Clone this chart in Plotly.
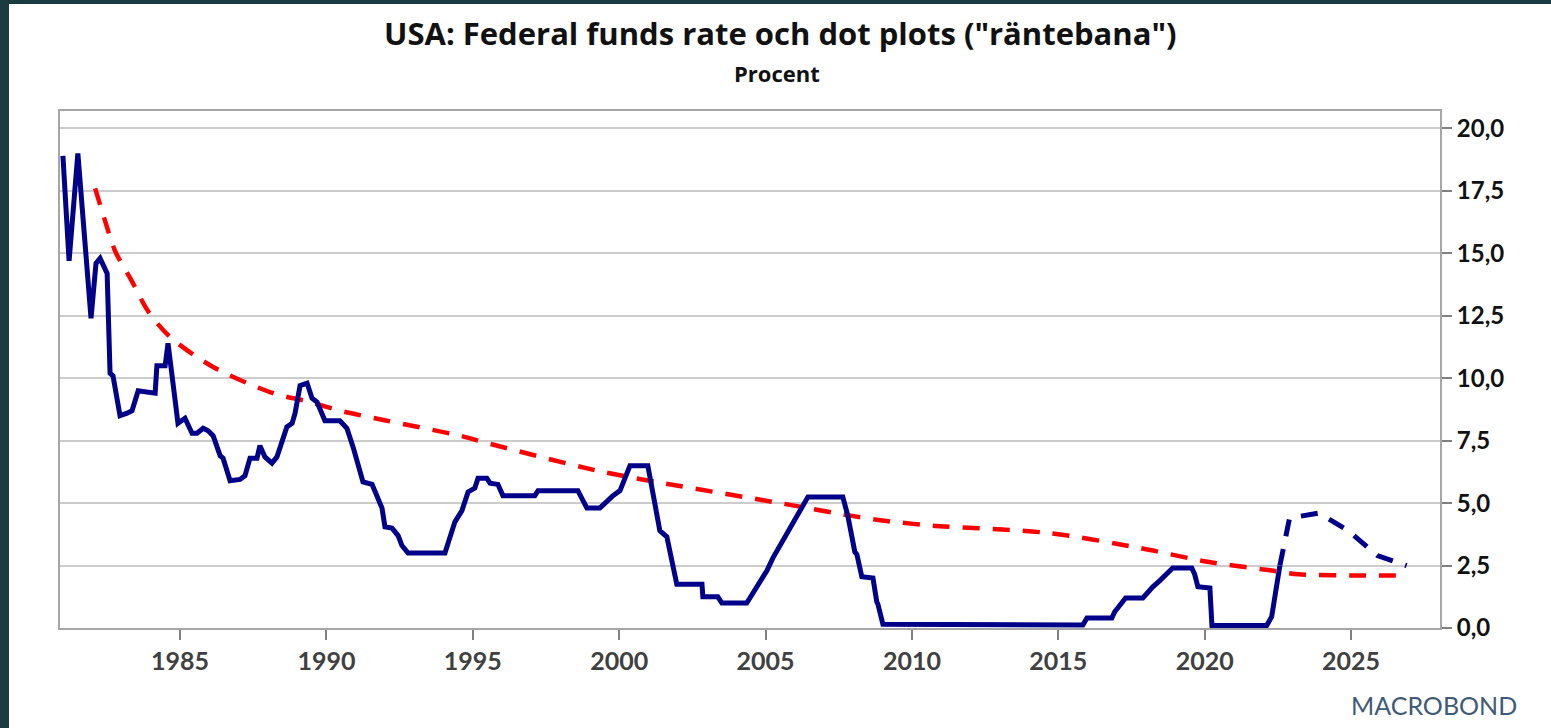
import plotly.graph_objects as go

# ---- data (decimal years, percent) ----
ffr_years = [1981.0, 1981.21, 1981.51, 1981.76, 1981.96, 1982.13, 1982.27, 1982.51, 1982.61, 1982.71,
             1982.95, 1983.19, 1983.36, 1983.57, 1984.15, 1984.21, 1984.49, 1984.59, 1984.93, 1985.17,
             1985.41, 1985.58, 1985.79, 1985.96, 1986.13, 1986.37, 1986.47, 1986.71, 1987.05, 1987.22,
             1987.39, 1987.63, 1987.73, 1987.90, 1988.14, 1988.31, 1988.48, 1988.65, 1988.83, 1988.93,
             1989.10, 1989.34, 1989.51, 1989.68, 1989.95, 1990.46, 1990.70, 1990.91, 1991.25, 1991.56,
             1991.90, 1992.00, 1992.24, 1992.45, 1992.58, 1992.79, 1994.05, 1994.39, 1994.63, 1994.84,
             1995.07, 1995.18, 1995.48, 1995.59, 1995.86, 1996.03, 1997.12, 1997.23, 1998.59, 1998.90,
             1999.34, 1999.58, 1999.79, 2000.03, 2000.13, 2000.37, 2000.98, 2001.12, 2001.22, 2001.39,
             2001.63, 2001.97, 2002.83, 2002.86, 2003.37, 2003.51, 2004.36, 2004.57, 2004.81, 2005.05,
             2005.25, 2005.49, 2005.77, 2006.07, 2006.24, 2006.45, 2007.64, 2007.81, 2008.05, 2008.12,
             2008.29, 2008.67, 2008.80, 2008.84, 2009.01, 2015.84, 2015.98, 2016.83, 2016.93, 2017.10,
             2017.30, 2017.89, 2018.03, 2018.23, 2018.47, 2018.71, 2018.91, 2019.56, 2019.66, 2019.77,
             2020.18, 2020.25, 2022.12, 2022.29, 2022.42, 2022.57]
ffr_values = [18.9, 14.7, 19.0, 15.5, 12.4, 14.6, 14.8, 14.2, 10.2, 10.1,
              8.5, 8.6, 8.7, 9.5, 9.4, 10.5, 10.5, 11.4, 8.2, 8.4,
              7.8, 7.8, 8.0, 7.9, 7.7, 6.9, 6.8, 5.9, 5.95, 6.1,
              6.8, 6.8, 7.3, 6.85, 6.6, 6.85, 7.45, 8.05, 8.2, 8.6,
              9.7, 9.8, 9.2, 9.05, 8.3, 8.3, 8.0, 7.25, 5.85, 5.75,
              4.8, 4.05, 4.0, 3.7, 3.3, 3.0, 3.0, 4.25, 4.7, 5.45,
              5.6, 6.0, 6.0, 5.8, 5.75, 5.3, 5.3, 5.5, 5.5, 4.8,
              4.8, 5.1, 5.3, 5.5, 5.8, 6.5, 6.5, 5.6, 5.0, 3.9,
              3.65, 1.75, 1.75, 1.25, 1.25, 1.0, 1.0, 1.4, 1.9, 2.3,
              2.8, 3.3, 3.8, 4.5, 4.8, 5.25, 5.25, 4.5, 3.05, 2.95,
              2.05, 2.0, 1.05, 0.95, 0.15, 0.12, 0.4, 0.4, 0.65, 0.9,
              1.2, 1.2, 1.4, 1.65, 1.9, 2.15, 2.4, 2.4, 2.15, 1.65,
              1.6, 0.1, 0.1, 0.45, 1.5, 2.5]

dot_years = [2022.57, 2022.9, 2023.9, 2024.9, 2025.9, 2026.9]
dot_values = [2.5, 4.4, 4.6, 3.9, 2.9, 2.5]

trend_years = [1982.1, 1982.44, 1982.78, 1983.35, 1983.9, 1984.66, 1986.13, 1988.18, 1989.44, 1990.46,
               1992.07, 1994.56, 1995.5, 1999.24, 2001.5, 2005.5, 2007.9, 2009.0, 2010.7, 2014.7,
               2017.8, 2020.1, 2022.3, 2023.2, 2025.5, 2026.8]
trend_values = [17.6, 16.3, 15.1, 13.9, 12.7, 11.65, 10.45, 9.4, 9.05, 8.7,
                8.3, 7.7, 7.4, 6.3, 5.8, 5.0, 4.5, 4.3, 4.1, 3.8,
                3.2, 2.65, 2.3, 2.15, 2.1, 2.1]

x_ticks = [1985, 1990, 1995, 2000, 2005, 2010, 2015, 2020, 2025]
y_ticks = [0, 2.5, 5, 7.5, 10, 12.5, 15, 17.5, 20]

title_text = 'USA: Federal funds rate och dot plots ("räntebana")'
subtitle_text = "Procent"
logo_text = "MACROBOND"

W, H = 1551, 728
L, R, T, B = 60, 111, 111, 100
pw, ph = W - L - R, H - T - B

fig = go.Figure()
fig.add_trace(go.Scatter(x=trend_years, y=trend_values, mode="lines",
                         line=dict(color="#FF0000", width=4.5, dash="17px,13px",
                                   shape="spline", smoothing=0.8),
                         hoverinfo="skip"))
fig.add_trace(go.Scatter(x=ffr_years, y=ffr_values, mode="lines",
                         line=dict(color="#000088", width=5),
                         hoverinfo="skip"))
fig.add_trace(go.Scatter(x=dot_years, y=dot_values, mode="lines",
                         line=dict(color="#000088", width=5, dash="17px,13px"),
                         hoverinfo="skip"))

def px_x(p):
    return (p - L) / pw

def px_y(p):
    return (H - B - p) / ph

shapes = [
    dict(type="rect", xref="paper", yref="paper", x0=px_x(0), x1=px_x(9), y0=px_y(H), y1=px_y(0),
         fillcolor="#1a3c40", line=dict(width=0), layer="above"),
    dict(type="rect", xref="paper", yref="paper", x0=px_x(0), x1=px_x(W), y0=px_y(4), y1=px_y(0),
         fillcolor="#1a3c40", line=dict(width=0), layer="above"),
]

annotations = [
    dict(text="<b>" + title_text + "</b>", xref="paper", yref="paper", x=px_x(780), y=px_y(33),
         xanchor="center", yanchor="middle", showarrow=False,
         font=dict(family="Open Sans", size=31, color="#111111")),
    dict(text="<b>" + subtitle_text + "</b>", xref="paper", yref="paper", x=px_x(777), y=px_y(73),
         xanchor="center", yanchor="middle", showarrow=False,
         font=dict(family="Open Sans", size=22, color="#111111")),
    dict(text=logo_text, xref="paper", yref="paper", x=px_x(1434), y=px_y(705),
         xanchor="center", yanchor="middle", showarrow=False,
         font=dict(family="Lato", size=25, color="#3f5a76")),
]

fig.update_layout(
    width=W, height=H,
    margin=dict(l=L, r=R, t=T, b=B, pad=0),
    paper_bgcolor="white", plot_bgcolor="white",
    showlegend=False,
    separators=", ",
    shapes=shapes,
    annotations=annotations,
    font=dict(family="Lato"),
)
fig.update_xaxes(
    range=[1980.9, 2028.04], tickmode="array", tickvals=x_ticks,
    ticktext=[str(v) for v in x_ticks],
    showgrid=False, zeroline=False,
    showline=True, linecolor="#a6a6a6", linewidth=2, mirror=True,
    ticks="outside", ticklen=10, tickwidth=1.5, tickcolor="#808080",
    tickfont=dict(family="Lato", size=25, color="#404040", weight="bold"),
)
fig.update_yaxes(
    range=[0, 20.7], tickmode="array", tickvals=y_ticks, side="right",
    tickformat=".1f",
    showgrid=True, gridcolor="#cccccc", gridwidth=1.5, zeroline=False,
    showline=True, linecolor="#a6a6a6", linewidth=2, mirror=True,
    ticks="outside", ticklen=10, tickwidth=1.5, tickcolor="#808080",
    tickfont=dict(family="Lato", size=24, color="#111111", weight="bold"),
)

fig.write_html("out.html", config={"displayModeBar": False},
               post_script="document.body.style.margin='0';document.body.style.overflow='hidden';")
